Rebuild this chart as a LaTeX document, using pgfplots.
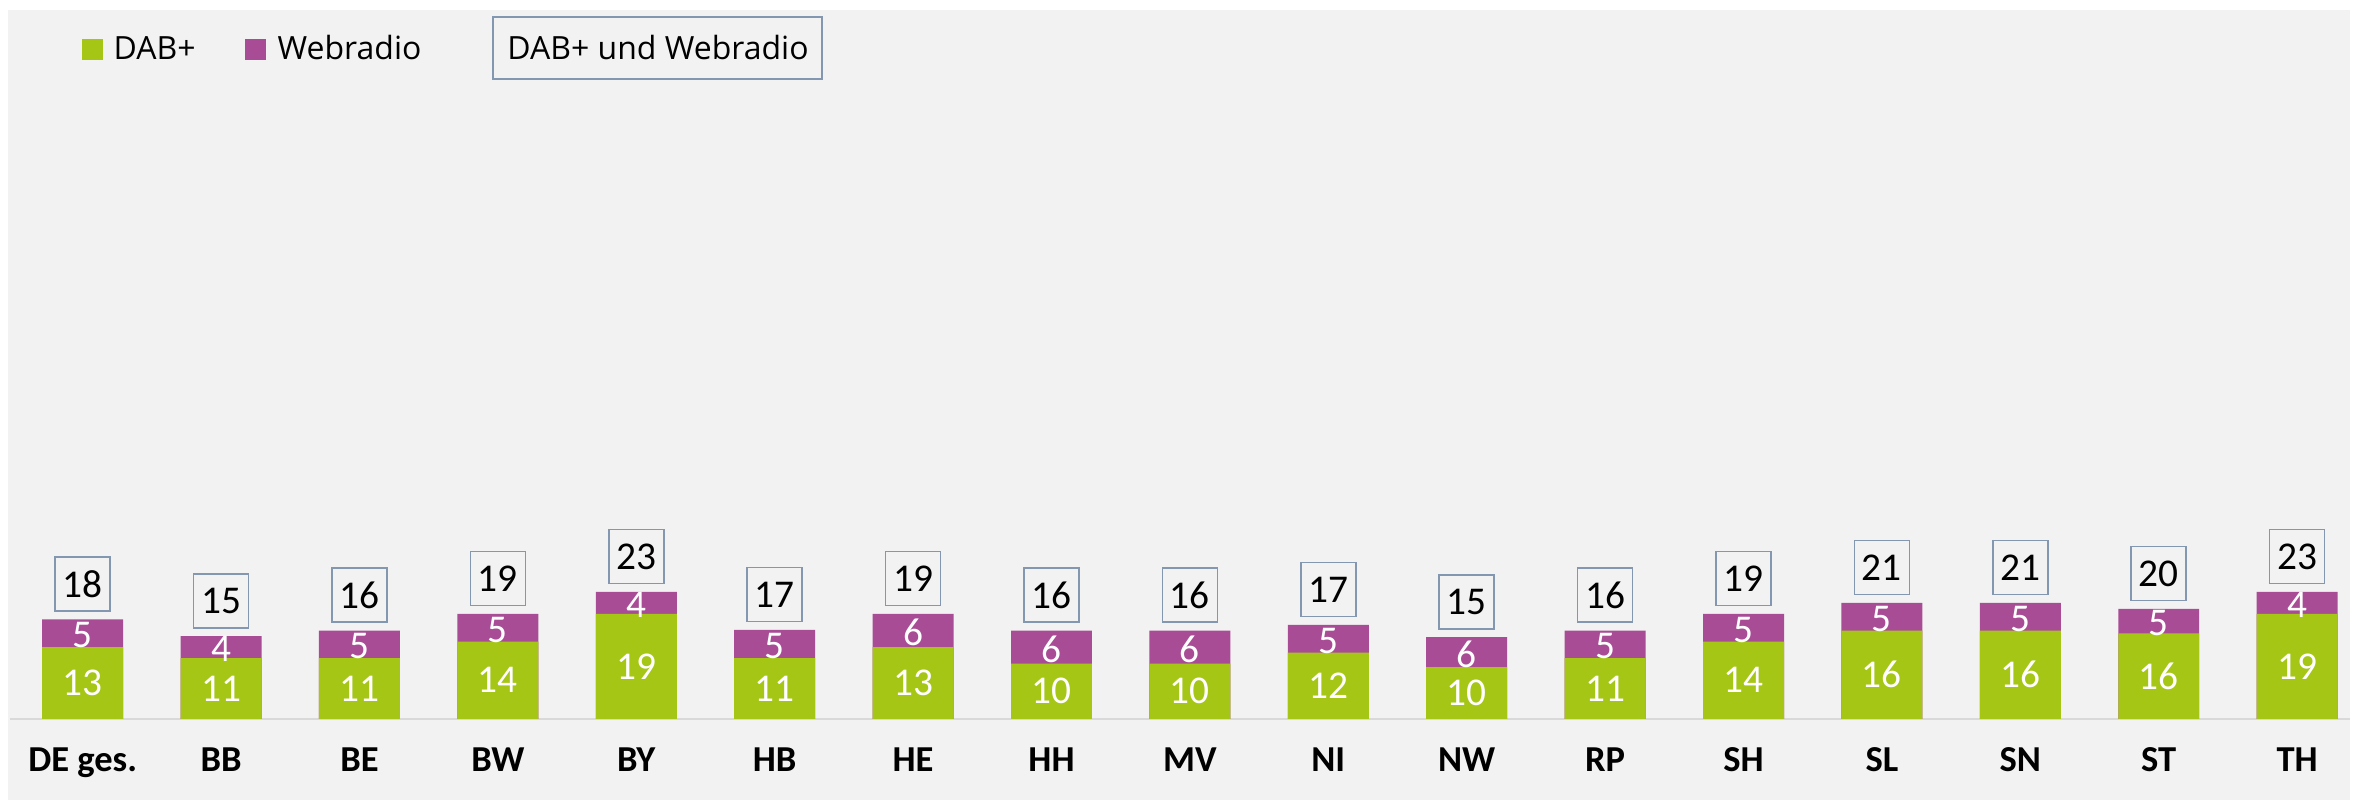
\documentclass[border=0pt]{standalone}
\usepackage{fontspec}
\setmainfont{Carlito}
\newfontfamily\legfont{Open Sans}
\usepackage{pgfplots}
\usepackage{pgfplotstable}
\pgfplotsset{compat=1.18}
\definecolor{dabcol}{RGB}{165,198,21}
\definecolor{webcol}{RGB}{169,76,150}
\definecolor{panel}{RGB}{242,242,242}
\definecolor{boxcol}{RGB}{132,151,176}
\definecolor{basecol}{RGB}{217,217,217}
\pgfplotstableread{
x dab web dl wl tl
0 13 5 13 5 18
1 11 4 11 4 15
2 11 5 11 5 16
3 14 5 14 5 19
4 19 4 19 4 23
5 11 5.1 11 5 17
6 13 6 13 6 19
7 10 6 10 6 16
8 10 6 10 6 16
9 12 5 12 5 17
10 9.4 5.4 10 6 15
11 11 5 11 5 16
12 14 5 14 5 19
13 16 5 16 5 21
14 16 5 16 5 21
15 15.5 4.4 16 5 20
16 19 4 19 4 23
}\data
\begin{document}
\begin{tikzpicture}
\fill[white] (0,0) rectangle (23.54,8);
\fill[panel] (0.08,0) rectangle (23.50,7.90);
\begin{axis}[
  scale only axis,
  width=23.40cm, height=7.09cm,
  at={(0.10cm,0.81cm)}, anchor=south west,
  xmin=-0.525, xmax=16.382, ymin=0, ymax=128.2,
  clip=false,
  axis y line=none,
  axis x line*=bottom,
  x axis line style={draw=basecol, line width=0.6pt, -},
  xtick={0,...,16},
  xticklabels={DE ges.,BB,BE,BW,BY,HB,HE,HH,MV,NI,NW,RP,SH,SL,SN,ST,TH},
  major tick length=0pt,
  xticklabel style={anchor=base, yshift=-0.53cm, font=\fontsize{10.4}{12}\selectfont\bfseries, text=black},
]
\addplot[ybar, bar width=0.585, bar shift=0pt, fill=webcol, draw=none]
  table[x=x, y expr=\thisrow{dab}+\thisrow{web}] {\data};
\addplot[ybar, bar width=0.585, bar shift=0pt, fill=dabcol, draw=none]
  table[x=x, y=dab] {\data};
\addplot[draw=none, mark=none, nodes near coords, point meta=explicit symbolic,
  every node near coord/.append style={anchor=center, text=white, inner sep=0pt, font=\fontsize{11.2}{13}\selectfont}]
  table[x=x, y expr=\thisrow{dab}/2, meta=dl] {\data};
\addplot[draw=none, mark=none, nodes near coords, point meta=explicit symbolic,
  every node near coord/.append style={anchor=center, yshift=-0.02cm, text=white, inner sep=0pt, font=\fontsize{11.2}{13}\selectfont}]
  table[x=x, y expr=\thisrow{dab}+\thisrow{web}/2, meta=wl] {\data};
\addplot[draw=none, mark=none, nodes near coords, point meta=explicit symbolic,
  every node near coord/.append style={anchor=south, yshift=0.075cm, text=black, draw=boxcol, line width=0.45pt, minimum width=0.55cm, minimum height=0.54cm, inner sep=0pt, font=\fontsize{11.2}{13}\selectfont}]
  table[x=x, y expr=\thisrow{dab}+\thisrow{web}, meta=tl] {\data};
\end{axis}
% legend
\fill[dabcol] (0.82,7.40) rectangle (1.03,7.61);
\node[anchor=west, inner sep=0pt, font=\legfont\fontsize{9.1}{10}\selectfont] at (1.13,7.52) {DAB+};
\fill[webcol] (2.45,7.40) rectangle (2.66,7.61);
\node[anchor=west, inner sep=0pt, font=\legfont\fontsize{9.1}{10}\selectfont] at (2.77,7.52) {Webradio};
\draw[boxcol, line width=0.45pt] (4.93,7.21) rectangle (8.22,7.83);
\node[anchor=center, inner sep=0pt, font=\legfont\fontsize{9.1}{10}\selectfont] at (6.58,7.52) {DAB+ und Webradio};
\end{tikzpicture}
\end{document}
